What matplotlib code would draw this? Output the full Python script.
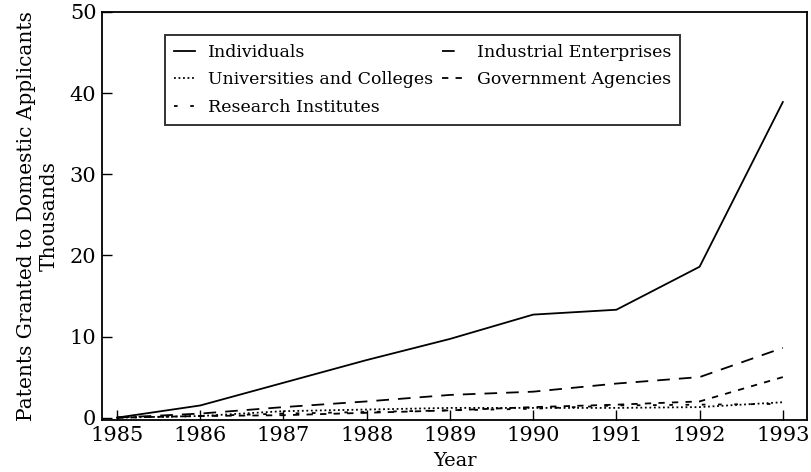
import matplotlib
matplotlib.use("Agg")
import matplotlib.pyplot as plt

years = [1985, 1986, 1987, 1988, 1989, 1990, 1991, 1992, 1993]
individuals = [0.0, 1.5, 4.3, 7.1, 9.7, 12.7, 13.3, 18.6, 38.9]
universities = [0.0, 0.2, 0.8, 1.0, 1.2, 1.2, 1.2, 1.3, 1.9]
research = [0.0, 0.2, 0.5, 0.7, 0.9, 1.1, 1.5, 1.6, 1.7]
industrial = [0.0, 0.5, 1.3, 2.0, 2.8, 3.2, 4.2, 5.0, 8.6]
government = [0.0, 0.2, 0.3, 0.6, 0.9, 1.3, 1.6, 2.0, 5.0]

yticks = [0, 10, 20, 30, 40, 50]

plt.rcParams['font.family'] = ['DejaVu Serif']

fig = plt.figure(figsize=(8.12, 4.72), dpi=100)
ax = fig.add_axes([0.1256, 0.110, 0.8682, 0.8646])

lw = 1.3
ax.plot(years, individuals, color='black', lw=lw, ls='-', label='Individuals')
ax.plot(years, universities, color='black', lw=lw, ls=(0, (1, 1.5)), label='Universities and Colleges')
ax.plot(years, research, color='black', lw=lw, ls=(0, (2, 7)), label='Research Institutes')
ax.plot(years, industrial, color='black', lw=lw, ls=(0, (7, 5)), label='Industrial Enterprises')
ax.plot(years, government, color='black', lw=lw, ls=(0, (3.5, 4)), label='Government Agencies')

ax.set_xlim(1984.82, 1993.29)
ax.set_ylim(-0.3, 50)
ax.set_xticks(years)
ax.set_yticks(yticks)
ax.tick_params(direction='in', length=7, width=1, labelsize=15, pad=4)
ax.tick_params(axis='x', pad=4)
for s in ax.spines.values():
    s.set_linewidth(1.3)

ax.set_xlabel('Year', fontsize=14)
ax.xaxis.set_label_coords(0.5, -0.078)
ax.set_ylabel('Patents Granted to Domestic Applicants\nThousands', fontsize=14.5, labelpad=8, linespacing=1.25)

leg = ax.legend(ncol=2, loc='upper left', bbox_to_anchor=(165/812, 1 - 35/472),
                bbox_transform=fig.transFigure, fontsize=12.5, handlelength=1.2,
                handletextpad=0.8, columnspacing=0.5, labelspacing=0.62,
                frameon=True, fancybox=False, shadow=False, borderpad=0.5,
                borderaxespad=0)
leg.get_frame().set_edgecolor('black')
leg.get_frame().set_linewidth(1.4)

fig.savefig('out.png', dpi=100)
